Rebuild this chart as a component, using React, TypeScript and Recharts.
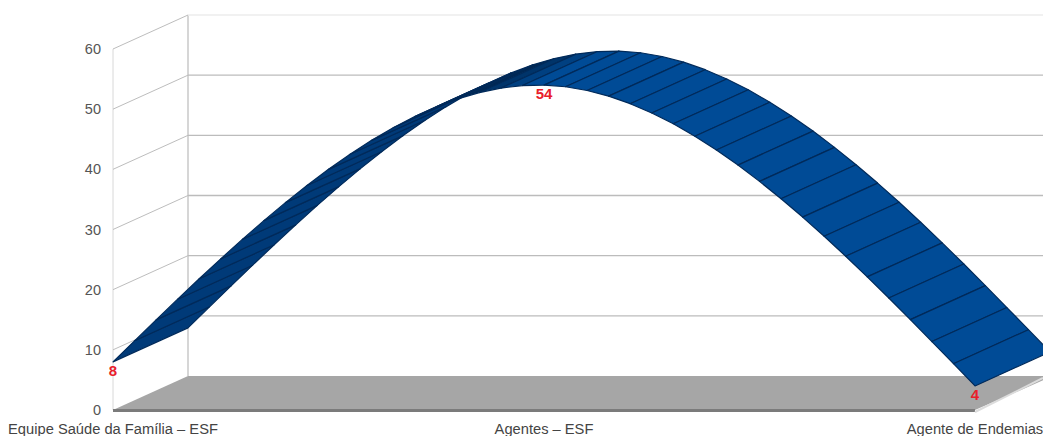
import React from 'react'
import { LineChart, Line, XAxis, YAxis } from 'recharts'

const CATEGORIES = ['Equipe Saúde da Família – ESF', 'Agentes – ESF', 'Agente de Endemias']
const VALUES = [8, 54, 4]
const Y_TICKS = [0, 10, 20, 30, 40, 50, 60]

const data = CATEGORIES.map((name, i) => ({ name, value: VALUES[i] }))

const WIDTH = 1043
const HEIGHT = 436
const PLOT_LEFT = 113
const PLOT_TOP = 49
const X_AXIS_HEIGHT = 26
const PLOT_HEIGHT = HEIGHT - PLOT_TOP - X_AXIS_HEIGHT
// pseudo-3D depth of the ribbon and the walls, in pixels
const DEPTH_X = 75
const DEPTH_Y = -34
const FACETS_PER_SEGMENT = 20
const FONT = '"Liberation Sans", Arial, sans-serif'

type Pt = { x: number; y: number }

// natural cubic spline through three evenly spaced points
const sampleSpline = (pts: Pt[]): Pt[] => {
  const [a, b, c] = pts
  const h = b.x - a.x
  const m = (6 * ((c.y - b.y) / h - (b.y - a.y) / h)) / (4 * h)
  const out: Pt[] = []
  for (let i = 0; i < FACETS_PER_SEGMENT; i++) {
    const t = i / FACETS_PER_SEGMENT
    out.push({ x: a.x + t * h, y: a.y + (b.y - a.y) * t + ((m * h * h) / 6) * (t * t * t - t) })
  }
  for (let i = 0; i <= FACETS_PER_SEGMENT; i++) {
    const t = i / FACETS_PER_SEGMENT
    const u = 1 - t
    out.push({ x: b.x + t * h, y: b.y + (c.y - b.y) * t + ((m * h * h) / 6) * (u * u * u - u) })
  }
  return out
}

const mix = (from: number[], to: number[], k: number) => {
  const f = Math.max(0, Math.min(1, k))
  const ch = from.map((v, i) => Math.round(v + (to[i] - v) * f))
  return `rgb(${ch[0]},${ch[1]},${ch[2]})`
}

// facets turned away from the viewer go dark, like a flat-shaded surface
const facetColor = (p: Pt, q: Pt) => {
  const dx = q.x - p.x
  const dy = q.y - p.y
  const cross = (dx * DEPTH_Y - dy * DEPTH_X) / (Math.hypot(dx, dy) * Math.hypot(DEPTH_X, DEPTH_Y))
  const dark = [0, 20, 46]
  if (cross > 0) return mix(dark, [0, 58, 120], cross / 0.08)
  return mix(dark, [0, 75, 150], -cross / 0.38)
}

const Ribbon = ({ points }: { points: Pt[] }) => {
  const curve = sampleSpline(points)
  return (
    <g>
      {curve.slice(0, -1).map((p, i) => {
        const q = curve[i + 1]
        const poly = [
          `${p.x},${p.y}`,
          `${q.x},${q.y}`,
          `${q.x + DEPTH_X},${q.y + DEPTH_Y}`,
          `${p.x + DEPTH_X},${p.y + DEPTH_Y}`,
        ].join(' ')
        return <polygon key={i} points={poly} fill={facetColor(p, q)} stroke="#002a5a" strokeWidth={1.2} strokeLinejoin="round" />
      })}
    </g>
  )
}

// y tick: number, side wall line and back wall grid line
const WallTick = (props: any) => {
  const { y, payload } = props
  const backY = y + DEPTH_Y
  const backX = PLOT_LEFT + DEPTH_X
  return (
    <g>
      {payload.value === 0 && (
        <g>
          <polygon
            points={`${PLOT_LEFT},${y} ${backX},${backY} ${WIDTH + 10},${backY} ${WIDTH - 68},${y}`}
            fill="#a6a6a6"
          />
          <rect x={PLOT_LEFT} y={y - 1} width={WIDTH - 68 - PLOT_LEFT} height={3} fill="#7b7b7b" />
          <line x1={WIDTH - 68} y1={y + 2} x2={WIDTH} y2={y + 2 + DEPTH_Y} stroke="#dcdcdc" strokeWidth={2} />
          <line x1={backX} y1={backY} x2={backX} y2={backY - PLOT_HEIGHT} stroke="#adadad" strokeWidth={1} />
        </g>
      )}
      {payload.value > 0 && (
        <g>
          <line x1={PLOT_LEFT} y1={y} x2={backX} y2={backY} stroke="#bdbdbd" strokeWidth={1} />
          <line
            x1={backX}
            y1={backY}
            x2={WIDTH}
            y2={backY}
            stroke={payload.value === 60 ? '#ececec' : '#bcbcbc'}
            strokeWidth={1.4}
          />
        </g>
      )}
      <text x={101} y={y + 5} textAnchor="end" fontFamily={FONT} fontSize={14.5} fill="#555555">
        {payload.value}
      </text>
    </g>
  )
}

export default function App() {
  return (
    <div style={{ position: 'absolute', left: 0, top: 0, width: WIDTH, height: HEIGHT, overflow: 'hidden', background: '#fff' }}>
      <LineChart width={WIDTH} height={HEIGHT} data={data} margin={{ top: PLOT_TOP, right: 0, bottom: 0, left: 0 }}>
        <XAxis
          dataKey="name"
          height={X_AXIS_HEIGHT}
          interval={0}
          padding={{ left: 0, right: 68 }}
          axisLine={false}
          tickLine={false}
          tickMargin={8}
          tick={{ fontFamily: FONT, fontSize: 14.7, fill: '#444444' }}
        />
        <YAxis
          width={PLOT_LEFT}
          domain={[0, 60]}
          ticks={Y_TICKS}
          interval={0}
          axisLine={{ stroke: '#d8d8d8' }}
          tickLine={false}
          tick={WallTick}
        />
        <Line
          dataKey="value"
          type="natural"
          stroke="#00295a"
          strokeWidth={1}
          isAnimationActive={false}
          shape={(p: any) => <Ribbon points={p.points} />}
          dot={false}
          activeDot={false}
          zIndex={3000}
          label={{ position: 'bottom', fill: '#e8202a', fontFamily: FONT, fontSize: 15, fontWeight: 700, offset: 3 }}
        />
      </LineChart>
    </div>
  )
}
